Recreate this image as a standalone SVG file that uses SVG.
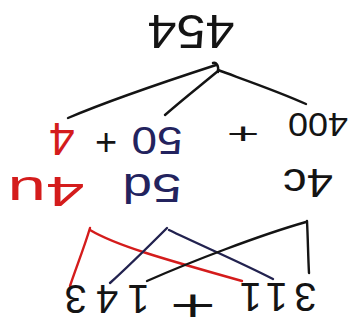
<svg xmlns="http://www.w3.org/2000/svg" width="355" height="327" viewBox="0 0 355 327">
<style>
.t{font-family:"Liberation Sans",Arial,sans-serif;text-anchor:middle}
.d{font-family:"DejaVu Sans",sans-serif;text-anchor:middle}
.k{fill:#141414}
.n{fill:#23235e}
.r{fill:#d41c1c}
.c{fill:none;stroke-width:2.4;stroke-linecap:round;stroke-linejoin:round}
.ck{stroke:#141414}
.cn{stroke:#22224f}
.cr{stroke:#d41c1c}
</style>
<rect width="355" height="327" fill="#ffffff"/>
<g id="connectors">
<path class="c ck" d="M213,63 C216,62 219,65 218,72"/>
<path class="c ck" d="M216,65 C170,80 110,100 68,118"/>
<path class="c ck" d="M218,71 C200,86 182,100 165,115"/>
<path class="c ck" d="M218,70 C245,80 280,92 306,104"/>
<path class="c cr" d="M70,286 C76,268 84,248 90,228"/>
<path class="c cr" d="M90,230 C115,245 160,258 242,281"/>
<path class="c cn" d="M167,228 C150,245 130,265 110,283"/>
<path class="c cn" d="M169,230 C200,245 240,262 273,279"/>
<path class="c ck" d="M307,221 C308,240 308,255 309,273"/>
<path class="c ck" d="M306,222 C260,235 190,262 147,281"/>
</g>
<g id="n454"><text class="t k" font-size="48" textLength="87" lengthAdjust="spacingAndGlyphs" transform="translate(191,15) rotate(180)">454</text></g>
<g id="n400"><text class="t k" font-size="34" textLength="60" lengthAdjust="spacingAndGlyphs" transform="translate(318,113) rotate(180)">400</text></g>
<g id="plus1"><text class="t k" font-size="40" y="14" transform="translate(243,133) scale(1.4,0.75)">+</text></g>
<g id="n50"><text class="t n" font-size="38" textLength="51" lengthAdjust="spacingAndGlyphs" transform="translate(157,127) rotate(180)">50</text></g>
<g id="plus2"><text class="t k" font-size="38" x="106" y="155">+</text></g>
<g id="n4"><text class="t r" font-size="46" transform="translate(62,123) rotate(180)">4</text></g>
<g id="n4c"><text class="t k" font-size="40" textLength="50" lengthAdjust="spacingAndGlyphs" transform="translate(308,169) rotate(180)">4c</text></g>
<g id="n5d"><text class="t n" font-size="40" textLength="59" lengthAdjust="spacingAndGlyphs" transform="translate(152,174) rotate(180)">5d</text></g>
<g id="n4u"><text class="t r" font-size="42" textLength="77" lengthAdjust="spacingAndGlyphs" transform="translate(46,177) rotate(180)">4u</text></g>
<g id="n143"><text class="t k" font-size="40" textLength="85" lengthAdjust="spacing" transform="translate(107,285) rotate(180)">143</text></g>
<g id="plus3"><text class="d k" font-size="36" y="12" transform="translate(193,305) scale(1.7,1)">+</text></g>
<g id="n311"><text class="t k" font-size="40" textLength="77" lengthAdjust="spacing" transform="translate(278,283) rotate(180)">311</text></g>
</svg>
